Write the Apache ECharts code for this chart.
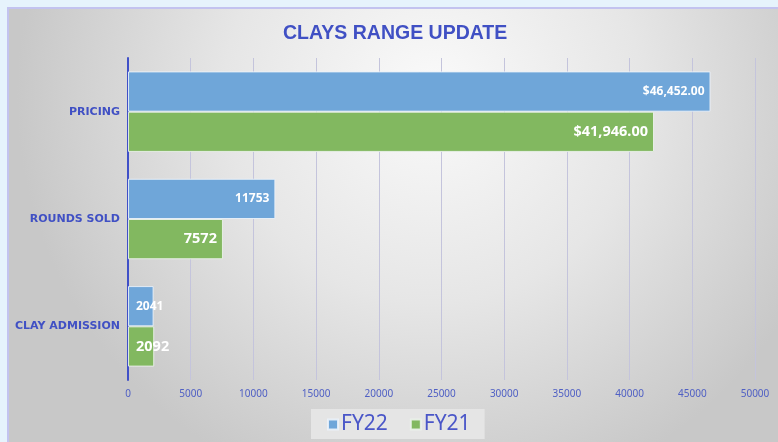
<!DOCTYPE html>
<html>
<head>
<meta charset="utf-8">
<script src="https://cdn.jsdelivr.net/npm/echarts@6/dist/echarts.min.js"></script>
<style>
html,body{margin:0;padding:0;background:#e6f3fc;}
#chart{width:778px;height:442px;}
</style>
</head>
<body>
<div id="chart"></div>
<script>
var categories = ['PRICING', 'ROUNDS SOLD', 'CLAY ADMISSION'];
var fy22 = [46452, 11753, 2041];
var fy21 = [41946, 7572, 2092];
var seriesNames = ['FY22', 'FY21'];
var xTicks = [0, 5000, 10000, 15000, 20000, 25000, 30000, 35000, 40000, 45000, 50000];

function fmt(p) {
  if (p.dataIndex === 0) {
    return '$' + p.value.toLocaleString('en-US', {minimumFractionDigits: 2, maximumFractionDigits: 2});
  }
  return String(p.value);
}
function mkData(arr) {
  return arr.map(function (v, i) {
    if (i === 2) return {value: v, label: {position: 'insideLeft', distance: 8}};
    return v;
  });
}

var chart = echarts.init(document.getElementById('chart'));
chart.setOption({
  animation: false,
  backgroundColor: 'transparent',
  graphic: [{
    type: 'rect', z: -100, silent: true,
    shape: {x: 8, y: 8, width: 772, height: 436},
    style: {
      fill: {
        type: 'radial', x: 0.55, y: 0.2, r: 0.95,
        colorStops: [{offset: 0, color: '#fafafa'}, {offset: 0.5, color: '#e6e6e6'}, {offset: 1, color: '#c8c8c8'}]
      },
      stroke: '#c3c3ef', lineWidth: 2
    }
  }],
  title: {
    text: 'CLAYS RANGE UPDATE',
    left: 278, top: 19,
    textStyle: {fontFamily: 'Liberation Sans', fontWeight: 'bold', fontSize: 19.5, color: '#4050c4'}
  },
  grid: {left: 128, right: 23, top: 58, bottom: 62},
  legend: {
    data: seriesNames,
    left: 311, top: 409,
    padding: [5, 14, 4, 16],
    backgroundColor: '#e5e5e5',
    icon: 'rect', itemWidth: 10, itemHeight: 10, itemGap: 22,
    textStyle: {fontSize: 21, color: '#4a56c8', fontFamily: 'Noto Sans', padding: [0, 0, 0, -2]}
  },
  xAxis: {
    type: 'value', min: 0, max: 50000, interval: 5000,
    axisLine: {show: false}, axisTick: {show: false},
    splitLine: {lineStyle: {color: '#c4c4dc', width: 1}},
    axisLabel: {color: '#5060c4', fontSize: 10, margin: 9, fontFamily: 'Noto Sans',
      formatter: function (v) { return String(v); }}
  },
  yAxis: {
    type: 'category', data: categories, inverse: true,
    axisLine: {lineStyle: {color: '#4050c8', width: 2}},
    axisTick: {show: false},
    axisLabel: {color: '#4050c4', fontSize: 11, fontWeight: 'bold', margin: 8, fontFamily: 'DejaVu Sans'}
  },
  series: [{
    name: 'FY22', type: 'bar', data: mkData(fy22),
    barGap: '0%', barCategoryGap: '25%',
    itemStyle: {color: '#6fa6d9', borderColor: 'rgba(235,242,250,0.9)', borderWidth: 1},
    label: {show: true, position: 'insideRight', distance: 6, formatter: fmt,
      color: '#ffffff', fontWeight: 'bold', fontSize: 12, fontFamily: 'Noto Sans'}
  }, {
    name: 'FY21', type: 'bar', data: mkData(fy21),
    itemStyle: {color: '#82b860', borderColor: 'rgba(235,242,235,0.9)', borderWidth: 1},
    label: {show: true, position: 'insideRight', distance: 6, formatter: fmt,
      color: '#ffffff', fontWeight: 'bold', fontSize: 14.5, fontFamily: 'Noto Sans'}
  }]
});
</script>
</body>
</html>
